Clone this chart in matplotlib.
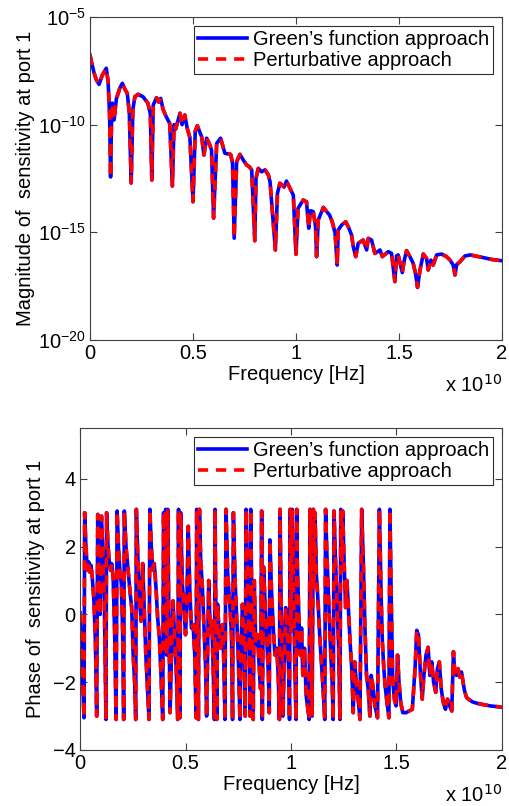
import numpy as np
import matplotlib
matplotlib.use("Agg")
import matplotlib.pyplot as plt
from matplotlib.ticker import FixedLocator, NullLocator, FuncFormatter

plt.rcParams['font.family'] = ['Liberation Sans', 'DejaVu Sans']

# ---------- magnitude (frequency in units of 1e10 Hz, log10 of |S|) ----------
freq_mag = [0.000, 0.010, 0.020, 0.030, 0.044, 0.060, 0.079, 0.088, 0.095, 0.100,
            0.105, 0.108, 0.117, 0.128, 0.145, 0.157, 0.172, 0.181, 0.191, 0.200,
            0.208, 0.218, 0.233, 0.257, 0.281, 0.293, 0.300, 0.307, 0.323, 0.334,
            0.343, 0.355, 0.370, 0.387, 0.400, 0.408, 0.416, 0.437, 0.447, 0.460,
            0.472, 0.485, 0.500, 0.511, 0.521, 0.542, 0.553, 0.566, 0.580, 0.590,
            0.600, 0.615, 0.634, 0.655, 0.683, 0.692, 0.700, 0.712, 0.728, 0.744,
            0.760, 0.773, 0.785, 0.800, 0.806, 0.817, 0.833, 0.850, 0.866, 0.874,
            0.900, 0.910, 0.922, 0.942, 0.954, 0.971, 0.987, 1.000, 1.010, 1.035,
            1.051, 1.062, 1.070, 1.084, 1.095, 1.100, 1.108, 1.133, 1.149, 1.163,
            1.176, 1.190, 1.200, 1.205, 1.222, 1.241, 1.254, 1.270, 1.278, 1.290,
            1.302, 1.326, 1.343, 1.351, 1.367, 1.383, 1.408, 1.419, 1.448, 1.464,
            1.480, 1.488, 1.496, 1.516, 1.526, 1.537, 1.553, 1.569, 1.580, 1.590,
            1.602, 1.618, 1.634, 1.642, 1.655, 1.666, 1.683, 1.707, 1.731, 1.748,
            1.763, 1.772, 1.780, 1.796, 1.820, 1.845, 1.902, 1.950, 2.000]
logmag_green = [-6.77, -7.20, -7.60, -7.90, -8.13, -7.70, -7.38, -8.00, -9.50, -12.43,
                -9.60, -9.00, -9.78, -8.80, -8.30, -8.08, -8.40, -8.54, -9.47, -12.71,
                -9.30, -8.70, -8.59, -8.70, -9.00, -9.50, -12.57, -9.09, -8.75, -8.95,
                -8.78, -9.30, -9.63, -9.94, -12.85, -10.00, -10.20, -9.47, -10.00, -9.55,
                -10.17, -10.60, -13.58, -10.30, -10.05, -10.56, -11.41, -10.63, -10.90, -11.18,
                -14.34, -10.87, -10.63, -11.33, -11.38, -11.80, -15.27, -11.72, -11.38, -11.64,
                -11.87, -11.95, -12.10, -15.39, -12.49, -12.03, -12.19, -12.10, -12.34, -12.65,
                -15.82, -13.19, -12.72, -12.90, -12.62, -12.96, -13.27, -16.02, -13.89, -13.50,
                -13.58, -14.81, -14.00, -14.04, -14.74, -16.13, -14.43, -13.84, -14.04, -14.20,
                -14.51, -15.05, -16.52, -14.89, -14.66, -14.51, -14.74, -15.13, -15.67, -16.13,
                -15.51, -15.36, -15.82, -15.28, -15.36, -15.98, -15.82, -16.13, -15.90, -15.98,
                -17.29, -16.10, -16.05, -16.87, -16.29, -15.85, -16.13, -16.44, -16.90, -17.56,
                -16.75, -16.01, -16.21, -16.75, -16.29, -16.52, -16.05, -16.01, -16.13, -16.29,
                -16.52, -16.98, -16.50, -16.37, -16.10, -16.05, -16.16, -16.26, -16.32]
logmag_pert = logmag_green  # the two approaches overlap on the plot

# ---------- phase (rad) ----------
freq_ph = [0.000, 0.010, 0.019, 0.022, 0.028, 0.035, 0.041, 0.046, 0.052, 0.058,
           0.066, 0.073, 0.079, 0.084, 0.090, 0.095, 0.102, 0.108, 0.115, 0.123,
           0.126, 0.132, 0.138, 0.145, 0.150, 0.157, 0.164, 0.171, 0.176, 0.183,
           0.190, 0.196, 0.202, 0.207, 0.210, 0.218, 0.228, 0.238, 0.245, 0.252,
           0.259, 0.264, 0.267, 0.275, 0.283, 0.290, 0.297, 0.304, 0.312, 0.320,
           0.327, 0.331, 0.338, 0.345, 0.352, 0.360, 0.368, 0.376, 0.384, 0.392,
           0.396, 0.401, 0.406, 0.411, 0.416, 0.421, 0.427, 0.433, 0.441, 0.449,
           0.456, 0.463, 0.467, 0.470, 0.474, 0.477, 0.485, 0.492, 0.500, 0.506,
           0.513, 0.520, 0.528, 0.536, 0.544, 0.550, 0.553, 0.557, 0.561, 0.566,
           0.572, 0.580, 0.588, 0.595, 0.600, 0.604, 0.610, 0.617, 0.625, 0.632,
           0.637, 0.640, 0.644, 0.648, 0.652, 0.660, 0.668, 0.676, 0.682, 0.687,
           0.692, 0.700, 0.710, 0.718, 0.723, 0.727, 0.735, 0.742, 0.750, 0.758,
           0.763, 0.770, 0.778, 0.783, 0.787, 0.795, 0.802, 0.806, 0.809, 0.815,
           0.821, 0.826, 0.833, 0.841, 0.848, 0.856, 0.861, 0.864, 0.870, 0.878,
           0.886, 0.893, 0.897, 0.900, 0.907, 0.915, 0.924, 0.933, 0.940, 0.945,
           0.948, 0.953, 0.958, 0.962, 0.968, 0.975, 0.983, 0.990, 0.993, 0.996,
           1.000, 1.006, 1.012, 1.018, 1.024, 1.027, 1.030, 1.037, 1.044, 1.050,
           1.056, 1.064, 1.072, 1.080, 1.086, 1.090, 1.096, 1.100, 1.106, 1.110,
           1.114, 1.120, 1.128, 1.136, 1.144, 1.152, 1.160, 1.164, 1.170, 1.178,
           1.186, 1.195, 1.200, 1.204, 1.210, 1.218, 1.226, 1.232, 1.236, 1.241,
           1.245, 1.252, 1.259, 1.265, 1.272, 1.280, 1.288, 1.295, 1.302, 1.312,
           1.320, 1.327, 1.335, 1.343, 1.351, 1.358, 1.366, 1.374, 1.380, 1.388,
           1.398, 1.410, 1.419, 1.427, 1.433, 1.440, 1.446, 1.455, 1.464, 1.469,
           1.475, 1.482, 1.490, 1.498, 1.505, 1.512, 1.520, 1.530, 1.545, 1.560,
           1.575, 1.588, 1.596, 1.604, 1.614, 1.622, 1.630, 1.640, 1.650, 1.658,
           1.667, 1.676, 1.686, 1.694, 1.703, 1.712, 1.722, 1.732, 1.742, 1.752,
           1.762, 1.770, 1.776, 1.784, 1.792, 1.800, 1.808, 1.816, 1.822, 1.832,
           1.845, 1.860, 1.880, 1.910, 1.945, 1.975, 2.000]
phase_green = [0.05, -1.50, -3.05, 3.00, 2.00, 1.30, 1.55, 1.25, 1.45, 1.10,
               0.40, -0.80, -3.00, 2.95, 1.00, 0.00, 2.90, 1.80, 0.50, -3.10,
               3.00, 2.10, 1.60, 1.30, 1.50, 1.10, -0.50, -3.10, 3.05, 1.90,
               1.20, 0.90, -0.50, -3.10, 3.05, 2.00, 1.30, 0.60, 0.20, -1.20,
               -2.00, -3.10, 3.10, 1.50, 0.30, -0.20, 1.50, 0.20, -1.20, -2.20,
               -3.10, 3.10, 2.00, 1.30, 1.50, 0.80, -0.10, -0.70, -1.80, -3.10,
               3.00, 0.60, 3.10, -1.20, 3.10, 0.00, -2.90, -1.30, 0.40, -0.80,
               -1.60, -3.10, 3.10, -0.50, -3.05, 3.00, 0.90, 0.30, -0.60, 0.20,
               2.60, 0.80, -0.40, -0.30, -1.20, -3.05, 3.10, 0.00, -3.10, 3.10,
               1.60, 0.80, -0.40, -1.50, -3.00, -1.50, 1.00, -0.50, -0.20, -1.80,
               -3.10, 3.10, 0.00, -3.10, 0.30, -0.60, -1.00, -0.30, -1.50, -3.10,
               3.10, 1.20, 0.30, -0.60, -3.10, 3.00, 1.00, 0.00, -1.20, -3.10,
               -1.00, 0.30, -1.00, -3.00, 3.10, 0.50, -0.80, -3.00, 3.10, 0.00,
               -3.10, 1.00, -0.90, -0.60, -1.40, -2.20, 3.05, -3.10, 1.40, 0.20,
               -0.90, -1.80, -2.90, 2.20, 0.80, -0.30, -1.20, -1.00, -1.90, -3.10,
               3.10, 0.50, -1.00, -3.00, -1.40, 0.20, -0.80, -1.80, -3.10, 3.10,
               -0.50, 3.10, 0.90, -1.50, -3.10, 3.10, 1.50, 0.00, -1.20, -0.40,
               -1.80, -1.00, -2.40, -2.80, -3.10, 3.10, 0.00, -3.00, 3.10, 1.00,
               3.00, 1.20, 0.40, -0.60, -1.40, -2.20, -3.10, 3.10, 1.80, 0.50,
               -0.80, -2.00, -3.10, 3.05, 1.80, 0.40, -1.00, -3.10, 3.10, 1.60,
               3.05, 1.50, 0.20, 1.00, 0.20, -0.80, -1.60, -2.90, -1.40, -2.20,
               -2.60, -3.10, 3.10, 1.50, -0.50, -1.80, -2.20, -3.00, -1.80, -2.10,
               -2.70, -3.05, 3.10, 0.60, -0.80, -1.60, -2.10, -2.60, -3.05, 3.10,
               0.50, -1.90, -2.50, -2.70, -1.20, -2.00, -2.60, -2.90, -2.90, -2.85,
               -2.80, -1.60, -0.47, -0.60, -1.80, -2.50, -1.80, -1.20, -0.97, -1.80,
               -1.40, -2.00, -2.30, -1.60, -1.40, -2.20, -2.60, -2.80, -2.50, -2.70,
               -2.85, -1.10, -1.70, -1.80, -1.60, -1.85, -1.70, -2.00, -2.24, -2.45,
               -2.52, -2.58, -2.62, -2.66, -2.70, -2.72, -2.74]
phase_pert = phase_green

FS = 14.5

fig = plt.figure(figsize=(5.09, 8.06), dpi=100)

ax1 = fig.add_axes([0.1768, 0.5782, 0.8094, 0.4007])
ax2 = fig.add_axes([0.1572, 0.0695, 0.829, 0.3995])

f_mag = np.array(freq_mag) * 1e10
ax1.semilogy(f_mag, 10.0 ** np.array(logmag_green), color='#0000ff', lw=2.6,
             label="Green\u2019s function approach")
ax1.semilogy(f_mag, 10.0 ** np.array(logmag_pert), color='#ff0000', lw=2.6,
             ls=(0, (2.8, 2.2)), label='Perturbative approach')
ax1.set_ylim(1e-20, 1e-5)
ax1.yaxis.set_major_locator(FixedLocator([1e-20, 1e-15, 1e-10, 1e-5]))
ax1.yaxis.set_minor_locator(NullLocator())
ax1.set_ylabel('Magnitude of  sensitivity at port 1', fontsize=FS, labelpad=2)

f_ph = np.array(freq_ph) * 1e10
ax2.plot(f_ph, phase_green, color='#0000ff', lw=2.6, label="Green\u2019s function approach")
ax2.plot(f_ph, phase_pert, color='#ff0000', lw=2.6, ls=(0, (2.8, 2.2)),
         label='Perturbative approach')
ax2.set_ylim(-4, 5.5)
ax2.set_yticks([-4, -2, 0, 2, 4])
ax2.set_ylabel('Phase of  sensitivity at port 1', fontsize=FS, labelpad=6)

xfmt = FuncFormatter(lambda v, p: '%g' % (v / 1e10))
for ax in (ax1, ax2):
    ax.set_xlim(0, 2e10)
    ax.set_xticks([0, 0.5e10, 1e10, 1.5e10, 2e10])
    ax.xaxis.set_major_formatter(xfmt)
    ax.set_xlabel('Frequency [Hz]', fontsize=FS, labelpad=1)
    ax.tick_params(direction='in', top=True, right=True, labelsize=FS, length=5,
                   width=0.8, color='#404040', pad=3)
    for s in ax.spines.values():
        s.set_color('#404040')
        s.set_linewidth(0.8)
    leg = ax.legend(loc='upper right', fontsize=FS, handlelength=2.4, handletextpad=0.3,
                    borderpad=0.2, labelspacing=0.1, fancybox=False, framealpha=1,
                    borderaxespad=0.45)
    leg.get_frame().set_edgecolor('#303030')
    leg.get_frame().set_linewidth(0.8)
    ax.text(1.0, -0.105, r'x 10$^{10}$', transform=ax.transAxes, ha='right', va='top',
            fontsize=FS)

fig.savefig('out.png', dpi=100)
